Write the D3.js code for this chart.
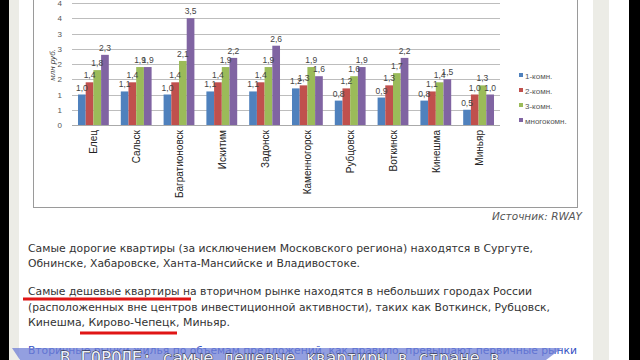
<!DOCTYPE html>
<html><head><meta charset="utf-8">
<script src="https://cdn.jsdelivr.net/npm/d3@7"></script>
<style>html,body{margin:0;padding:0;background:#fff;}svg{display:block;}</style>
</head><body>
<svg id="c" width="640" height="360"></svg>
<script>
const categories = ["Елец","Сальск","Багратионовск","Искитим","Задонск","Каменногорск","Рубцовск","Воткинск","Кинешма","Миньяр"];
const seriesNames = ["1-комн.","2-комн.","3-комн.","многокомн."];
const room1 = [1.0,1.1,1.0,1.1,1.1,1.2,0.8,0.9,0.8,0.5];
const room2 = [1.4,1.4,1.4,1.4,1.4,1.3,1.2,1.3,1.1,1.0];
const room3 = [1.8,1.9,2.1,1.9,1.9,1.9,1.6,1.7,1.4,1.3];
const roomMany = [2.3,1.9,3.5,2.2,2.6,1.6,1.9,2.2,1.5,1.0];
const yTicks = [0,0.5,1,1.5,2,2.5,3,3.5,4];
const yTickLabels = ["0","1","1","2","2","3","3","4","4"];
const colors = ["#4f81bd","#c0504d","#9bbb59","#8064a2"];
const paragraphs = [
  "Самые дорогие квартиры (за исключением Московского региона) находятся в Сургуте,",
  "Обнинске, Хабаровске, Ханта-Мансийске и Владивостоке.",
  "Самые дешевые квартиры на вторичном рынке находятся в небольших городах России",
  "(расположенных вне центров инвестиционной активности), таких как Воткинск, Рубцовск,",
  "Кинешма, Кирово-Чепецк, Миньяр.",
  "Вторичные рынки жилья по объемам предложений, как правило, превышают первичные рынки"
];
const series = [room1, room2, room3, roomMany];

const svg = d3.select("#c");
// page frame
svg.append("rect").attr("x",0).attr("y",0).attr("width",640).attr("height",360).attr("fill","#fff");
svg.append("rect").attr("x",0).attr("y",0).attr("width",9).attr("height",360).attr("fill","#000");
svg.append("rect").attr("x",9).attr("y",0).attr("width",10).attr("height",360).attr("fill","#ecece6");
svg.append("rect").attr("x",593).attr("y",0).attr("width",16).attr("height",360).attr("fill","#ecece6");
svg.append("rect").attr("x",629).attr("y",0).attr("width",11).attr("height",360).attr("fill","#000");

// chart frame
svg.append("rect").attr("x",33.5).attr("y",-5).attr("width",544).attr("height",212.5)
  .attr("fill","#fff").attr("stroke","#9a9a9a");

const x0 = d3.scaleBand().domain(categories).range([72,500]).paddingInner(0.28).paddingOuter(0.14);
const x1 = d3.scaleBand().domain(d3.range(4)).range([0,x0.bandwidth()]);
const y = d3.scaleLinear().domain([0,4]).range([125,3]);

// gridlines
svg.append("g").selectAll("line").data(yTicks).join("line")
  .attr("x1",72).attr("x2",500)
  .attr("y1",d=>Math.round(y(d))+0.5).attr("y2",d=>Math.round(y(d))+0.5)
  .attr("stroke","#bdbdbd").attr("stroke-width",1);

// y axis labels
const yAxis = d3.axisLeft(y).tickValues(yTicks).tickFormat((d,i)=>yTickLabels[i]).tickSize(0).tickPadding(6);
const ga = svg.append("g").attr("transform","translate(68,0)").call(yAxis);
ga.select(".domain").remove();
ga.selectAll("text").attr("font-family","Liberation Sans, Arial, sans-serif").attr("font-size",8).attr("fill","#555");

svg.append("text").attr("transform","translate(55,65) rotate(-90)")
  .attr("text-anchor","middle").attr("font-family","Liberation Sans, Arial, sans-serif")
  .attr("font-size",8).attr("font-style","italic").attr("fill","#444").text("млн руб.");

// bars
const fmt = d3.formatLocale({decimal:",",thousands:" ",grouping:[3],currency:["",""]}).format(".1f");
const groups = svg.append("g").selectAll("g").data(categories).join("g")
  .attr("transform",d=>`translate(${x0(d)},0)`);
groups.selectAll("rect").data((d,i)=>series.map((s,k)=>({k,v:s[i]}))).join("rect")
  .attr("x",d=>x1(d.k)).attr("width",x1.bandwidth())
  .attr("y",d=>y(d.v)).attr("height",d=>y(0)-y(d.v))
  .attr("fill",d=>colors[d.k]);
groups.selectAll("text").data((d,i)=>series.map((s,k)=>({k,v:s[i]}))).join("text")
  .attr("x",d=>x1(d.k)+x1.bandwidth()/2).attr("y",d=>y(d.v)-4)
  .attr("text-anchor","middle").attr("font-family","Liberation Sans, Arial, sans-serif")
  .attr("font-size",8.5).attr("fill","#444").text(d=>fmt(d.v));

// x axis line
svg.append("line").attr("x1",72).attr("x2",500).attr("y1",125.5).attr("y2",125.5).attr("stroke","#aaa");

// x labels
svg.append("g").selectAll("text").data(categories).join("text")
  .attr("transform",d=>`translate(${x0(d)+x0.bandwidth()/2+4},130) rotate(-90)`)
  .attr("text-anchor","end").attr("font-family","Liberation Sans, Arial, sans-serif")
  .attr("font-size",10).attr("fill","#222").text(d=>d);

// legend
const lg = svg.append("g").selectAll("g").data(seriesNames).join("g")
  .attr("transform",(d,i)=>`translate(519,${76+i*15})`);
lg.append("rect").attr("x",0).attr("y",-3).attr("width",4).attr("height",4).attr("fill",(d,i)=>colors[i]);
lg.append("text").attr("x",6).attr("y",3).attr("font-family","Liberation Sans, Arial, sans-serif")
  .attr("font-size",8).attr("fill","#555").text(d=>d);

// source
svg.append("text").attr("x",582).attr("y",220).attr("text-anchor","end")
  .attr("font-family","DejaVu Sans, Verdana, sans-serif").attr("font-style","italic")
  .attr("font-size",10.5).attr("fill","#555").text("Источник: RWAY");

// paragraphs
const baselines = [252,267,295,311,326,354];
const widths = [505,332,504,522,202,549];
svg.append("g").selectAll("text").data(paragraphs).join("text")
  .attr("x",28).attr("y",(d,i)=>baselines[i])
  .attr("textLength",(d,i)=>widths[i]).attr("lengthAdjust","spacingAndGlyphs")
  .attr("font-family","DejaVu Sans, Verdana, sans-serif").attr("font-size",11)
  .attr("fill",(d,i)=>i===5?"#3452c4":"#333").text(d=>d);

// red underlines
svg.append("rect").attr("x",23).attr("y",297.5).attr("width",168).attr("height",3).attr("fill","#e01515");
svg.append("rect").attr("x",80).attr("y",331.5).attr("width",97).attr("height",3).attr("fill","#e01515");

// banner
svg.append("polygon").attr("points","12,348 562,348 546,360 20,360")
  .attr("fill","#6f7fd6").attr("fill-opacity",0.75);
svg.append("text").attr("x",60).attr("y",364).attr("font-family","DejaVu Sans Mono, monospace")
  .attr("font-size",17).attr("fill","#eef0f8").attr("stroke","#222").attr("stroke-width",0.8)
  .attr("paint-order","stroke").text("В ГОРОДЕ: самые дешевые квартиры в стране в");
</script>
</body></html>
